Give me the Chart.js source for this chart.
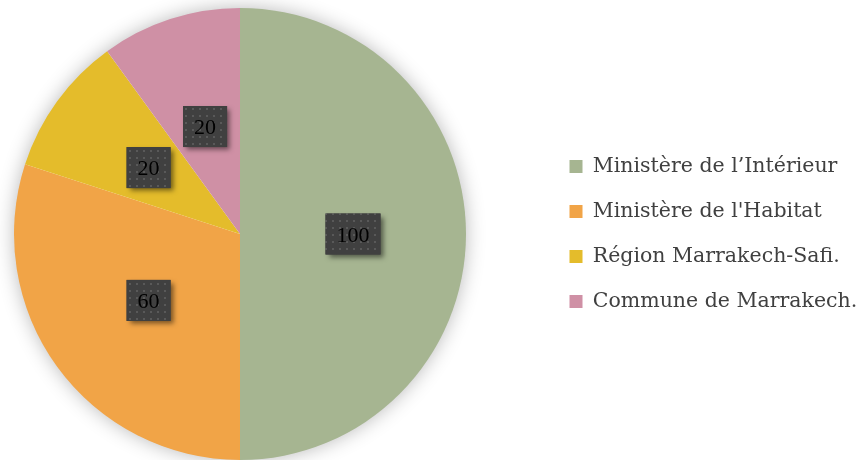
<!DOCTYPE html>
<html>
<head>
<meta charset="utf-8">
<script src="https://cdn.jsdelivr.net/npm/chart.js@4"></script>
<style>
  html, body { margin: 0; padding: 0; background: #ffffff; }
  canvas { display: block; }
</style>
</head>
<body>
<canvas id="pie" width="859" height="460"></canvas>
<script>
const categories = ["Ministère de l’Intérieur", "Ministère de l'Habitat", "Région Marrakech-Safi.", "Commune de Marrakech."];
const values = [100, 60, 20, 20];
const colors = ["#A6B591", "#F1A447", "#E4BC2B", "#CF90A5"];

// dotted dark fill for the value boxes
function makeDots() {
  const c = document.createElement('canvas');
  c.width = 7; c.height = 7;
  const g = c.getContext('2d');
  g.fillStyle = '#404040';
  g.fillRect(0, 0, 7, 7);
  g.fillStyle = '#595959';
  g.fillRect(3, 3, 2, 2);
  return c;
}

// pie sits on the left, legend block further right
const placeArea = {
  id: 'placeArea',
  afterLayout(chart) {
    const ca = chart.chartArea;
    ca.left = 0;
    ca.right = 480;
    ca.width = 480;
    const lg = chart.legend;
    const dx = 545 - lg.left;
    lg.left += dx;
    lg.right += dx;
  }
};

const pieShadow = {
  id: 'pieShadow',
  beforeDatasetsDraw(chart) {
    const arc = chart.getDatasetMeta(0).data[0];
    if (!arc) return;
    const ctx = chart.ctx;
    ctx.save();
    ctx.shadowColor = 'rgba(0,0,0,0.3)';
    ctx.shadowBlur = 20;
    ctx.fillStyle = '#ffffff';
    ctx.beginPath();
    ctx.arc(arc.x, arc.y, arc.outerRadius - 1, 0, Math.PI * 2);
    ctx.fill();
    ctx.restore();
  }
};

const valueBoxes = {
  id: 'valueBoxes',
  afterDatasetsDraw(chart) {
    const ctx = chart.ctx;
    const pattern = ctx.createPattern(makeDots(), 'repeat');
    ctx.save();
    ctx.font = '22px "Liberation Serif", serif';
    ctx.textAlign = 'center';
    ctx.textBaseline = 'middle';
    chart.getDatasetMeta(0).data.forEach((arc, i) => {
      const p = arc.tooltipPosition();
      const txt = String(values[i]);
      const w = ctx.measureText(txt).width + 22;
      const h = 41;
      const x = p.x - w / 2, y = p.y - h / 2;
      ctx.save();
      ctx.shadowColor = 'rgba(0,0,0,0.5)';
      ctx.shadowBlur = 5;
      ctx.shadowOffsetX = 3;
      ctx.shadowOffsetY = 3;
      ctx.fillStyle = '#404040';
      ctx.fillRect(x, y, w, h);
      ctx.restore();
      ctx.fillStyle = pattern;
      ctx.fillRect(x, y, w, h);
      ctx.fillStyle = '#000000';
      ctx.fillText(txt, p.x, p.y + 2);
    });
    ctx.restore();
  }
};

new Chart(document.getElementById('pie'), {
  type: 'pie',
  data: {
    labels: categories,
    datasets: [{
      data: values,
      backgroundColor: colors,
      borderWidth: 0
    }]
  },
  options: {
    responsive: false,
    animation: false,
    layout: { padding: { top: 8 } },
    plugins: {
      tooltip: { enabled: false },
      legend: {
        position: 'right',
        labels: {
          boxWidth: 13,
          boxHeight: 13,
          padding: 24.5,
          color: '#404040',
          font: { family: '"DejaVu Serif", serif', size: 20.5 }
        }
      }
    }
  },
  plugins: [placeArea, pieShadow, valueBoxes]
});
</script>
</body>
</html>
